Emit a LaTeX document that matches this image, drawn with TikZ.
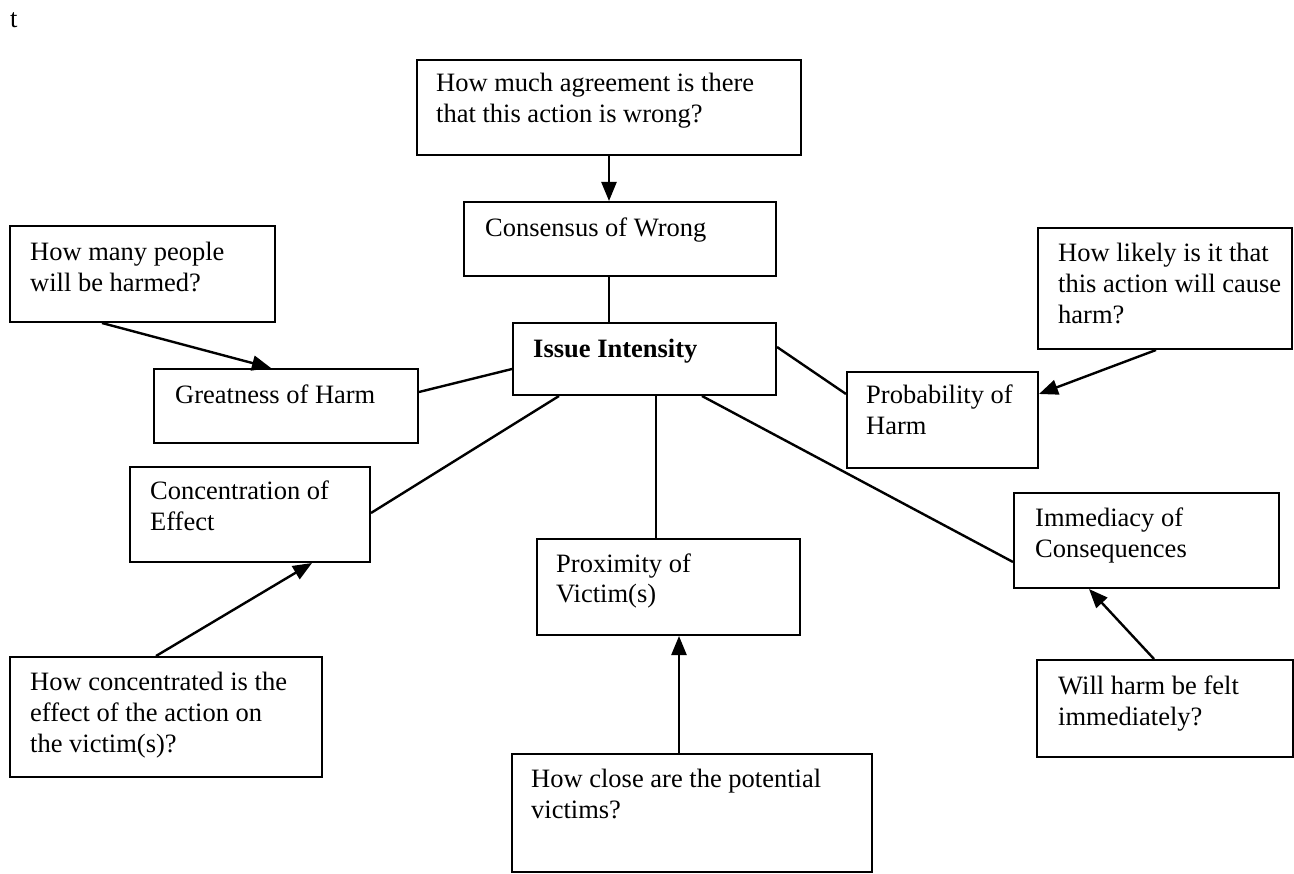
\documentclass[tikz,border=0pt]{standalone}
\usepackage{fontspec}
\setmainfont{Liberation Serif}
\usetikzlibrary{arrows.meta,calc}
\tikzset{
  boxframe/.style={draw, line width=2pt, inner sep=0pt, rectangle},
  boxtext/.style={anchor=base west, inner sep=0pt, font=\fontsize{26.5}{31}\selectfont},
  link/.style={line width=2.4pt},
  arr/.style={line width=2.4pt, -{Triangle[length=19pt,width=15pt]}}
}
\newcommand\txt[1]{\begin{tabular}[t]{@{}l@{}}#1\end{tabular}}
\begin{document}
\begin{tikzpicture}[x=1pt,y=-1pt]
\useasboundingbox (0,0) rectangle (1294,874);
\node[boxtext] (tmark) at (10,28) {t};
% boxes
\node[boxframe, minimum width=384pt, minimum height=95pt] (qtop) at (609,107.5) {};
\node[boxframe, minimum width=312pt, minimum height=74pt] (cons) at (620,239) {};
\node[boxframe, minimum width=263pt, minimum height=72pt] (issue) at (644.5,359) {};
\node[boxframe, minimum width=265pt, minimum height=96pt] (howmany) at (142.5,274) {};
\node[boxframe, minimum width=264pt, minimum height=74pt] (great) at (286,406) {};
\node[boxframe, minimum width=254pt, minimum height=121pt] (likely) at (1165,288.5) {};
\node[boxframe, minimum width=191pt, minimum height=96pt] (prob) at (942.5,420) {};
\node[boxframe, minimum width=265pt, minimum height=95pt] (imm) at (1146.5,540.5) {};
\node[boxframe, minimum width=256pt, minimum height=97pt] (will) at (1165,708.5) {};
\node[boxframe, minimum width=240pt, minimum height=95pt] (conc) at (250,514.5) {};
\node[boxframe, minimum width=312pt, minimum height=120pt] (howconc) at (166,717) {};
\node[boxframe, minimum width=263pt, minimum height=96pt] (prox) at (668.5,587) {};
\node[boxframe, minimum width=360pt, minimum height=118pt] (howclose) at (692,813) {};
% texts
\node[boxtext] (qtop-t) at ($(qtop.north west)+(20,33)$) {\txt{How much agreement is there\\that this action is wrong?}};
\node[boxtext] (cons-t) at ($(cons.north west)+(22,36)$) {\txt{Consensus of Wrong}};
\node[boxtext] (issue-t) at ($(issue.north west)+(21,36)$) {\txt{\textbf{Issue Intensity}}};
\node[boxtext] (howmany-t) at ($(howmany.north west)+(21,36)$) {\txt{How many people\\will be harmed?}};
\node[boxtext] (great-t) at ($(great.north west)+(22,36)$) {\txt{Greatness of Harm}};
\node[boxtext] (likely-t) at ($(likely.north west)+(21,35)$) {\txt{How likely is it that\\this action will cause\\harm?}};
\node[boxtext] (prob-t) at ($(prob.north west)+(20,33)$) {\txt{Probability of\\Harm}};
\node[boxtext] (imm-t) at ($(imm.north west)+(22,34)$) {\txt{Immediacy of\\Consequences}};
\node[boxtext] (will-t) at ($(will.north west)+(22,35)$) {\txt{Will harm be felt\\immediately?}};
\node[boxtext] (conc-t) at ($(conc.north west)+(21,34)$) {\txt{Concentration of\\Effect}};
\node[boxtext] (howconc-t) at ($(howconc.north west)+(21,34)$) {\txt{How concentrated is the\\effect of the action on\\the victim(s)?}};
\node[boxtext] (prox-t) at ($(prox.north west)+(20,34)$) {\txt{Proximity of\\Victim(s)}};
\node[boxtext] (howclose-t) at ($(howclose.north west)+(20,34)$) {\txt{How close are the potential\\victims?}};
% connectors
\draw[arr] (qtop.south) -- (qtop.south |- cons.north);
\draw[link] (qtop.south |- cons.south) -- (qtop.south |- issue.north);
\draw[arr] ($(howmany.south west)+(93,0)$) -- ($(great.north west)+(118,0)$);
\draw[link] ($(great.north east)+(0,24)$) -- ($(issue.north west)+(0,47)$);
\draw[link] ($(issue.north east)+(0,25)$) -- ($(prob.north west)+(0,23)$);
\draw[arr] ($(likely.south west)+(119,0)$) -- ($(prob.north east)+(0,23)$);
\draw[link] ($(issue.south west)+(190,0)$) -- ($(imm.north west)+(0,70)$);
\draw[arr] ($(will.north west)+(118,0)$) -- ($(imm.south west)+(76,0)$);
\draw[link] ($(issue.south west)+(47,0)$) -- ($(conc.north east)+(0,47)$);
\draw[arr] ($(howconc.north west)+(147,0)$) -- ($(conc.south west)+(183,0)$);
\draw[link] ($(issue.south west)+(144,0)$) -- ($(prox.north west)+(120,0)$);
\draw[arr] ($(howclose.north west)+(168,0)$) -- ($(prox.south west)+(143,0)$);
\end{tikzpicture}
\end{document}
